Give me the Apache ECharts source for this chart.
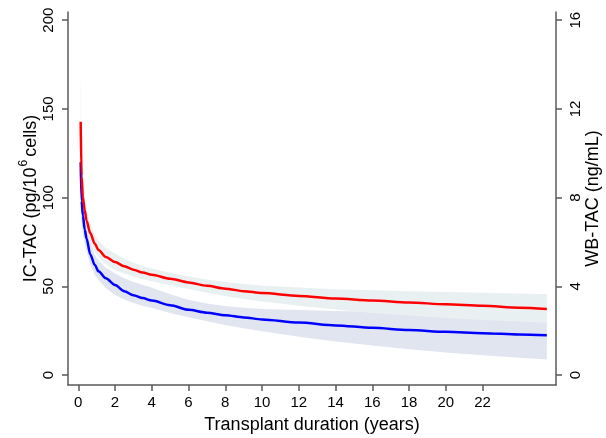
<!DOCTYPE html>
<html>
<head>
<meta charset="utf-8">
<script src="https://cdn.jsdelivr.net/npm/echarts@6/dist/echarts.min.js"></script>
<style>
  html, body { margin: 0; padding: 0; background: #fff; }
  #main { width: 606px; height: 438px; }
</style>
</head>
<body>
<div id="main"></div>
<script>
// years since transplant
const years = [0.13, 0.18, 0.25, 0.35, 0.45, 0.65, 0.9, 1.1, 1.5, 2, 2.5, 3, 3.5, 4, 5, 6, 7, 8, 9, 10, 12, 14, 16, 18, 20, 22, 24, 25.5];

// IC-TAC (pg/10^6 cells), left axis
const icTac =      [142.8, 112, 100, 93, 87, 80, 74, 70.5, 66.5, 63.7, 61.3, 59.4, 57.8, 56.5, 54.3, 52.2, 50.3, 48.7, 47.3, 46.2, 44.6, 43.2, 42.0, 40.9, 39.9, 39.0, 38.0, 37.2];
const icTacUpper = [173.6, 128, 110, 100, 93, 85, 79, 75.5, 71.5, 68.5, 65.5, 63.3, 61.4, 60, 57.6, 55.6, 53.9, 52.5, 51.3, 50.5, 49.3, 48.4, 47.8, 47.3, 46.8, 46.4, 46.0, 45.7];
const icTacLower = [115, 98, 91, 86, 81, 75, 69.5, 66.5, 62.5, 59.2, 57.2, 55.5, 54, 52.8, 50.6, 48.5, 46.4, 44.5, 42.9, 41.5, 39.1, 37.0, 35.0, 33.5, 32.2, 31.1, 30.2, 29.5];

// WB-TAC (ng/mL), right axis
const wbTac =      [9.6, 7.84, 7.2, 6.56, 6.16, 5.44, 4.96, 4.68, 4.36, 4.06, 3.78, 3.60, 3.47, 3.36, 3.15, 2.94, 2.81, 2.70, 2.60, 2.51, 2.37, 2.24, 2.13, 2.03, 1.95, 1.89, 1.83, 1.79];
const wbTacUpper = [9.92, 8.64, 7.92, 7.2, 6.76, 6.0, 5.41, 5.16, 4.84, 4.58, 4.37, 4.20, 4.07, 3.94, 3.64, 3.40, 3.23, 3.11, 3.03, 2.98, 2.93, 2.89, 2.85, 2.82, 2.78, 2.76, 2.74, 2.72];
const wbTacLower = [7.6, 6.88, 6.4, 5.92, 5.6, 4.96, 4.51, 4.28, 3.92, 3.61, 3.41, 3.25, 3.13, 3.02, 2.80, 2.61, 2.43, 2.26, 2.11, 1.98, 1.73, 1.51, 1.33, 1.16, 1.02, 0.89, 0.78, 0.70];

// tick labels
const xTicks = [0, 2, 4, 6, 8, 10, 12, 14, 16, 18, 20, 22];
const leftTicks = [0, 50, 100, 150, 200];
const rightTicks = [0, 4, 8, 12, 16];

const myChart = echarts.init(document.getElementById('main'));

const pairs = (ys) => years.map((x, i) => [x, ys[i]]);

const axisGray = '#5a5a5a';
const font = 'Liberation Sans, Arial, sans-serif';

const myGrid = {
  left: 68,
  right: 50,
  top: 12,
  bottom: 53,
  outerBoundsMode: 'none',
  containLabel: false
};

const myXAxis = {
  type: 'value',
  min: -0.56,
  max: 26,
  name: 'Transplant duration (years)',
  nameLocation: 'middle',
  nameGap: 31,
  nameMoveOverlap: false,
  nameTextStyle: { color: '#000', fontSize: 18, fontFamily: font },
  axisLine: { onZero: false, lineStyle: { color: axisGray, width: 1.5 } },
  axisTick: { length: 6, customValues: xTicks, lineStyle: { color: axisGray, width: 1.5 } },
  axisLabel: { customValues: xTicks, color: '#000', fontSize: 15, fontFamily: font, margin: 10 },
  splitLine: { show: false }
};

const myYAxis = [
  {
    type: 'value',
    position: 'left',
    min: -5.6,
    max: 204.6,
    name: '{a|IC-TAC (pg/10}{s|6}{a|cells)}',
    nameLocation: 'middle',
    nameRotate: 90,
    nameGap: 28,
    nameMoveOverlap: false,
    nameTextStyle: {
      rich: {
        a: { color: '#000', fontSize: 18, fontFamily: font, lineHeight: 22, verticalAlign: 'bottom' },
        s: { color: '#000', fontSize: 12, fontFamily: font, lineHeight: 22, verticalAlign: 'top', padding: [0, 3, 0, 1] }
      }
    },
    axisLine: { show: true, onZero: false, lineStyle: { color: axisGray, width: 1.5 } },
    axisTick: { show: true, length: 6, customValues: leftTicks, lineStyle: { color: axisGray, width: 1.5 } },
    axisLabel: { customValues: leftTicks, rotate: 90, color: '#000', fontSize: 15, fontFamily: font, margin: 12 },
    splitLine: { show: false }
  },
  {
    type: 'value',
    position: 'right',
    min: -0.448,
    max: 16.368,
    name: 'WB-TAC (ng/mL)',
    nameLocation: 'middle',
    nameRotate: 90,
    nameGap: 28,
    nameMoveOverlap: false,
    nameTextStyle: { color: '#000', fontSize: 18, fontFamily: font },
    axisLine: { show: true, onZero: false, lineStyle: { color: axisGray, width: 1.5 } },
    axisTick: { show: true, length: 6, customValues: rightTicks, lineStyle: { color: axisGray, width: 1.5 } },
    axisLabel: { customValues: rightTicks, rotate: 90, color: '#000', fontSize: 15, fontFamily: font, margin: 12 },
    splitLine: { show: false }
  }
];

// confidence band: one polygon through upper points and back through lower points
const band = (name, axis, hi, lo, color, z) => ({
  name: name,
  type: 'custom',
  yAxisIndex: axis,
  z: z,
  silent: true,
  data: years.map((x, i) => [x, lo[i], hi[i]]),
  encode: { x: 0, y: [1, 2] },
  renderItem: function (params, api) {
    if (params.dataIndex !== 0) return;
    const top = years.map((x, i) => api.coord([x, hi[i]]));
    const bottom = years.map((x, i) => api.coord([x, lo[i]])).reverse();
    return {
      type: 'polygon',
      shape: { points: top.concat(bottom) },
      style: { fill: color, stroke: null }
    };
  }
});

const mySeries = [
  band('wbBand', 1, wbTacUpper, wbTacLower, '#e1e5f0', 1),
  band('icBand', 0, icTacUpper, icTacLower, '#e9f0f1', 2),
  {
    name: 'WB-TAC',
    type: 'line',
    yAxisIndex: 1,
    data: pairs(wbTac),
    symbol: 'none',
    smooth: 0.3,
    smoothMonotone: 'x',
    z: 3,
    lineStyle: { color: '#0000ff', width: 2.5 }
  },
  {
    name: 'IC-TAC',
    type: 'line',
    yAxisIndex: 0,
    data: pairs(icTac),
    symbol: 'none',
    smooth: 0.3,
    smoothMonotone: 'x',
    z: 4,
    lineStyle: { color: '#ff0000', width: 2.5 }
  }
];

myChart.setOption({
  animation: false,
  backgroundColor: '#fff',
  grid: myGrid,
  xAxis: myXAxis,
  yAxis: myYAxis,
  series: mySeries
});
</script>
</body>
</html>
